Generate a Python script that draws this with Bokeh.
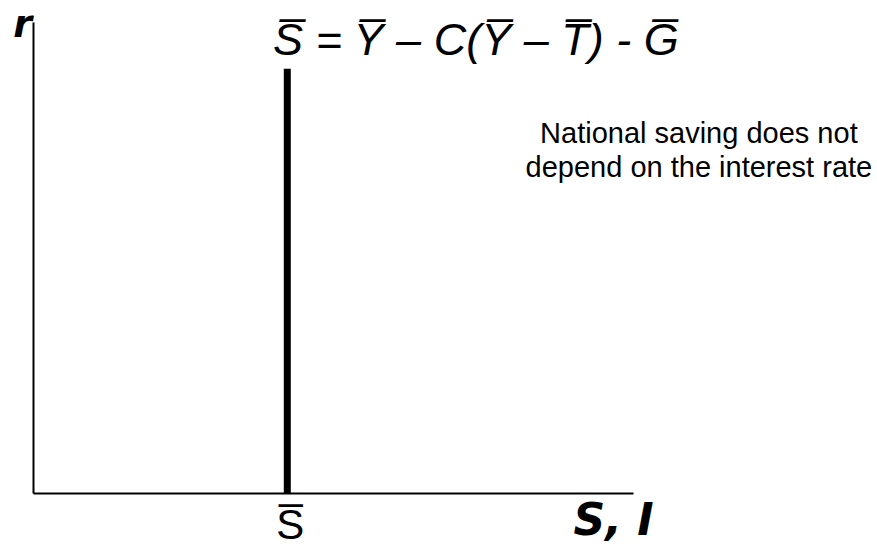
from bokeh.plotting import figure
from bokeh.models import Range1d
from bokeh.core.properties import value
from bokeh.embed import file_html
from bokeh.resources import INLINE

# ---- data ----
axis_x_max = 100.0          # horizontal axis length (S, I)
axis_y_max = 100.0          # vertical axis length (r)
saving_level = [42.3]       # S-bar position on the S, I axis
saving_top = [90.2]         # top of the vertical saving line
x_axis_label = "S, I"
y_axis_label = "r"
saving_label = "S\u0305"
equation = "S\u0305 = Y\u0305 \u2013 C(Y\u0305 \u2013 T\u0305) - G\u0305"
note_lines = ["National saving does not", "depend on the interest rate"]

p = figure(width=877, height=548,
           x_range=Range1d(-5.5, 140.67), y_range=Range1d(-11.68, 104.67),
           min_border=0, toolbar_location=None, output_backend="svg",
           x_axis_location=None, y_axis_location=None)
p.grid.visible = False
p.outline_line_color = None
p.background_fill_color = "white"
p.border_fill_color = "white"

# axes drawn as lines
p.line(x=[0, axis_x_max], y=[0, 0], line_color="black", line_width=2)
p.line(x=[0, 0], y=[0, axis_y_max], line_color="black", line_width=2)

# vertical saving line
p.segment(x0=saving_level, y0=[0], x1=saving_level, y1=saving_top,
          line_color="black", line_width=7)

# axis labels
p.text(x=[-1.83], y=[99.6], text=[y_axis_label], text_align="center",
       text_baseline="alphabetic", text_font=value("DejaVu Sans"),
       text_font_style="bold italic", text_font_size="38px", text_color="black")
p.text(x=[90.0], y=[-5.5], text=[x_axis_label], text_align="left",
       text_baseline="alphabetic", text_font=value("DejaVu Sans"),
       text_font_style="bold italic", text_font_size="44px", text_color="black")

# S-bar label under the axis
p.text(x=[saving_level[0] + 0.5], y=[-6.69], text=[saving_label], text_align="center",
       text_baseline="alphabetic", text_font=value("Liberation Sans"),
       text_font_size="42px", text_color="black")

# equation
p.text(x=[73.8], y=[96.3], text=[equation], text_align="center",
       text_baseline="alphabetic", text_font=value("Liberation Sans"),
       text_font_style="italic", text_font_size="45px", text_color="black")

# note
p.text(x=[110.9, 110.9], y=[76.44, 69.22], text=note_lines, text_align="center",
       text_baseline="alphabetic", text_font=value("Liberation Sans"),
       text_font_size="29px", text_color="black")

open("out.html", "w").write(file_html(p, INLINE))
